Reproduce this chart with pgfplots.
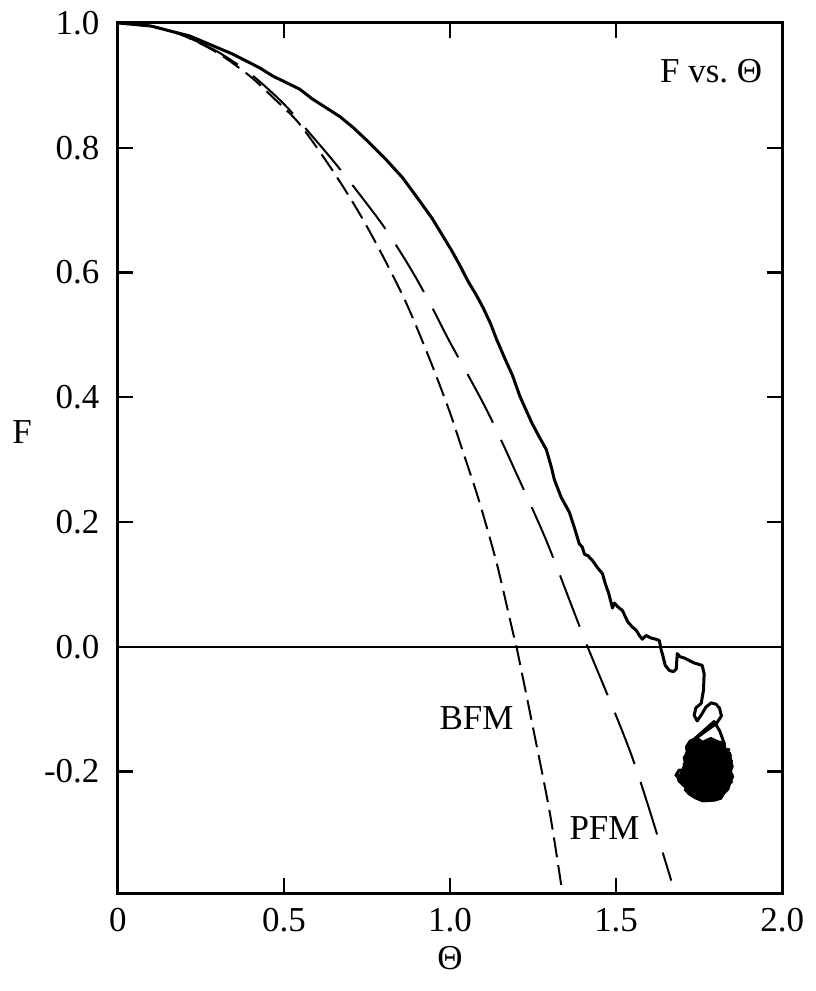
\documentclass[border=0pt]{standalone}
\usepackage{pgfplots}
\pgfplotsset{compat=1.18}
\usepackage{fontspec}
\setmainfont{Liberation Serif}

\begin{document}
\begin{tikzpicture}[font=\fontsize{10.5}{12}\selectfont]
\begin{axis}[
    scale only axis,
    width=199.5pt, height=261.3pt,
    xmin=0, xmax=2, ymin=-0.395, ymax=1,
    xtick={0,0.5,1,1.5,2},
    xticklabels={0,0.5,1.0,1.5,2.0},
    ytick={-0.2,0,0.2,0.4,0.6,0.8,1.0},
    yticklabels={-0.2,0.0,0.2,0.4,0.6,0.8,1.0},
    tick align=inside,
    major tick length=4.5pt,
    minor tick num=0,
    axis line style={line width=0.9pt},
    tick style={line width=0.7pt, black},
    yticklabel style={xshift=-2pt},
    xticklabel style={yshift=-1pt},
    xlabel={Θ},
    ylabel={F},
    xlabel style={at={(rel axis cs:0.5,-0.075)}, anchor=center},
    ylabel style={at={(rel axis cs:-0.144,0.53)}, anchor=center, rotate=-90},
    clip=false,
    /pgf/number format/assume math mode=true,
]
% zero line
\addplot[black, line width=0.6pt] coordinates {(0,0) (2,0)};

% BFM (short dashes)
\addplot[black, line width=0.6pt, dash pattern=on 6pt off 2.4pt, smooth] coordinates {
(0,1) (0.1,0.995) (0.2,0.979) (0.3,0.952) (0.397,0.915) (0.47,0.879)
(0.547,0.838) (0.647,0.763) (0.728,0.694) (0.797,0.627) (0.869,0.550)
(0.938,0.462) (0.998,0.378) (1.038,0.314) (1.085,0.238) (1.14,0.135)
(1.188,0.026) (1.2,0.0) (1.248,-0.125) (1.299,-0.262) (1.335,-0.383)
};

% PFM (long dashes)
\addplot[black, line width=0.6pt, dash pattern=on 16.5pt off 5.7pt, smooth] coordinates {
(0,1) (0.1,0.995) (0.2,0.979) (0.3,0.954) (0.4,0.918) (0.5,0.870)
(0.586,0.818) (0.668,0.766) (0.788,0.683) (0.848,0.635) (0.899,0.590)
(0.947,0.543) (0.998,0.490) (1.11,0.380) (1.203,0.274)
(1.29,0.170) (1.368,0.063) (1.414,0.0) (1.549,-0.178)
(1.666,-0.375)
};

% simulation blob (filled outline)
\addplot[black, fill=black, line width=0.5pt] coordinates {
(1.722,-0.150) (1.745,-0.146) (1.760,-0.152) (1.785,-0.146) (1.805,-0.151)
(1.826,-0.154) (1.830,-0.165) (1.843,-0.170) (1.847,-0.182) (1.851,-0.192)
(1.846,-0.200) (1.853,-0.208) (1.845,-0.218) (1.838,-0.229) (1.825,-0.236)
(1.816,-0.244) (1.796,-0.247) (1.780,-0.243) (1.768,-0.248) (1.745,-0.243)
(1.728,-0.236) (1.712,-0.228) (1.700,-0.222) (1.688,-0.216) (1.683,-0.208)
(1.692,-0.205) (1.700,-0.196) (1.706,-0.186) (1.703,-0.178) (1.712,-0.170)
(1.710,-0.160) (1.722,-0.150)
};

% simulation (solid)
\addplot[black, line width=0.9pt, line join=round] coordinates {
(0,1) (0.1,0.995) (0.217,0.979) (0.346,0.950) (0.427,0.928) (0.466,0.915)
(0.547,0.894) (0.586,0.878) (0.668,0.850) (0.707,0.833) (0.749,0.812)
(0.809,0.780) (0.857,0.752) (0.908,0.715) (0.947,0.686) (0.98,0.657)
(1.005,0.635) (1.029,0.612) (1.053,0.587) (1.080,0.563) (1.100,0.543)
(1.122,0.518) (1.140,0.493) (1.165,0.462) (1.188,0.435) (1.21,0.402)
(1.23,0.378) (1.248,0.357) (1.27,0.335) (1.29,0.316) (1.305,0.288)
(1.314,0.268) (1.335,0.239) (1.359,0.216) (1.375,0.19) (1.389,0.165)
(1.398,0.160) (1.405,0.148) (1.415,0.146) (1.429,0.138) (1.445,0.126)
(1.459,0.117) (1.468,0.10) (1.478,0.085) (1.489,0.062) (1.495,0.070)
(1.505,0.064) (1.519,0.058) (1.535,0.040) (1.548,0.032) (1.561,0.026)
(1.570,0.018) (1.579,0.012) (1.590,0.018) (1.605,0.014) (1.62,0.012)
(1.630,0.010) (1.636,-0.006) (1.639,-0.011) (1.648,-0.030) (1.660,-0.038)
(1.672,-0.040) (1.681,-0.036) (1.684,-0.011) (1.692,-0.016) (1.705,-0.018)
(1.720,-0.022) (1.735,-0.026) (1.759,-0.030) (1.765,-0.043) (1.763,-0.070)
(1.756,-0.091) (1.740,-0.098) (1.735,-0.110) (1.744,-0.119) (1.758,-0.108)
(1.770,-0.097) (1.786,-0.090) (1.800,-0.092) (1.811,-0.098) (1.817,-0.111)
(1.802,-0.123) (1.729,-0.151) (1.795,-0.120) (1.812,-0.135) (1.826,-0.156)
(1.716,-0.160) (1.840,-0.165) (1.712,-0.170) (1.845,-0.174) (1.708,-0.179)
(1.848,-0.183) (1.704,-0.188) (1.850,-0.192) (1.690,-0.198) (1.680,-0.206)
(1.700,-0.212) (1.848,-0.217) (1.708,-0.229) (1.720,-0.236) (1.738,-0.242)
(1.760,-0.247) (1.795,-0.246) (1.750,-0.232) (1.800,-0.190) (1.760,-0.165)
};

\node at (rel axis cs:0.893,0.945) {F vs.\ Θ};
\node at (axis cs:1.08,-0.115) {BFM};
\node at (axis cs:1.465,-0.29) {PFM};
% page margins
\path (rel axis cs:-0.1774,-0.1125) rectangle (rel axis cs:1.0346,1.0253);
\end{axis}
\end{tikzpicture}
\end{document}
